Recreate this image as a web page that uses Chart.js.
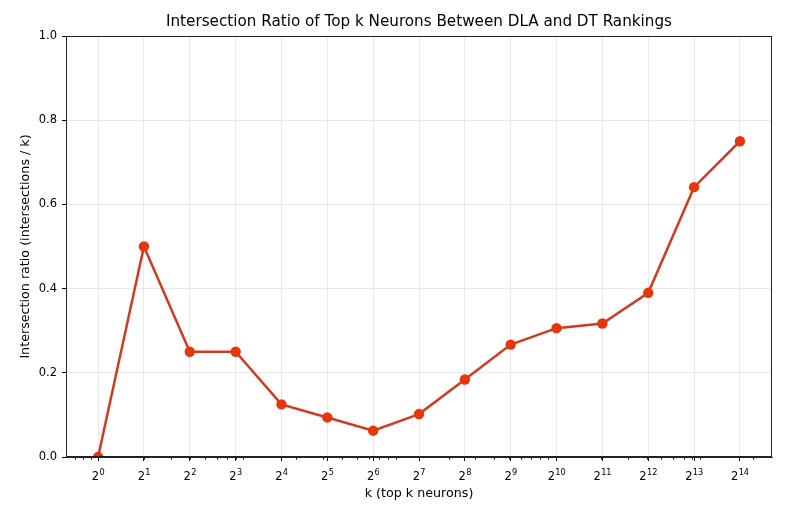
<!DOCTYPE html>
<html>
<head>
<meta charset="utf-8">
<script src="https://cdn.jsdelivr.net/npm/chart.js@4.4.0/dist/chart.umd.min.js"></script>
<style>
  html, body { margin: 0; padding: 0; background: #fff; }
  #wrap { width: 796px; height: 511px; }
</style>
</head>
<body>
<div id="wrap"><canvas id="ratioChart" width="796" height="511"></canvas></div>
<script>
// top k values and intersection ratios
const kValues = [1, 2, 4, 8, 16, 32, 64, 128, 256, 512, 1024, 2048, 4096, 8192, 16384];
const ratios = [0.0, 0.5, 0.25, 0.25, 0.125, 0.094, 0.0625, 0.102, 0.184, 0.267, 0.306, 0.317, 0.39, 0.641, 0.75];
const xExponents = [0, 1, 2, 3, 4, 5, 6, 7, 8, 9, 10, 11, 12, 13, 14];
const yTicks = [0.0, 0.2, 0.4, 0.6, 0.8, 1.0];
const chartTitle = 'Intersection Ratio of Top k Neurons Between DLA and DT Rankings';

const FONT = 'DejaVu Sans';

// minor ticks like matplotlib's base-10 log minor locator
const minorTicks = [];
for (let m = -1; m <= 4; m++) {
    for (let d = 2; d <= 9; d++) {
        const v = Math.log2(d * Math.pow(10, m));
        if (v > -0.7 && v < 14.7) minorTicks.push(v);
    }
}

// frame, minor ticks, title over the plot and 2^n tick labels with superscripts
const frame = {
    id: 'frame',
    afterDraw(chart) {
        const { ctx, chartArea: a } = chart;
        const xs = chart.scales.x;
        ctx.save();
        ctx.strokeStyle = '#000';
        ctx.lineWidth = 1;
        ctx.beginPath();
        minorTicks.forEach(v => {
            const px = Math.round(xs.getPixelForValue(v)) + 0.5;
            ctx.moveTo(px, a.bottom);
            ctx.lineTo(px, a.bottom + 2.5);
        });
        ctx.stroke();
        ctx.strokeStyle = '#222';
        ctx.strokeRect(a.left + 0.5, a.top + 0.5, a.right - a.left - 1, a.bottom - a.top - 1);

        ctx.fillStyle = '#000';
        ctx.font = '15.2px "' + FONT + '"';
        ctx.textAlign = 'center';
        ctx.textBaseline = 'middle';
        ctx.fillText(chartTitle, (a.left + a.right) / 2, 22);

        ctx.textBaseline = 'alphabetic';
        ctx.textAlign = 'left';
        const baseY = a.bottom + 23;
        xs.ticks.forEach((t, i) => {
            const px = xs.getPixelForTick(i);
            const exp = String(t.value);
            ctx.font = '11.5px "' + FONT + '"';
            const w1 = ctx.measureText('2').width;
            ctx.font = '8.2px "' + FONT + '"';
            const w2 = ctx.measureText(exp).width;
            const x0 = px - (w1 + w2) / 2;
            ctx.font = '11.5px "' + FONT + '"';
            ctx.fillText('2', x0, baseY);
            ctx.font = '8.2px "' + FONT + '"';
            ctx.fillText(exp, x0 + w1 + 0.3, baseY - 5);
        });
        ctx.restore();
    }
};

Chart.defaults.font.family = FONT;
Chart.defaults.color = '#000';

const ctx = document.getElementById('ratioChart').getContext('2d');
new Chart(ctx, {
    type: 'line',
    data: {
        datasets: [{
            data: kValues.map((k, i) => ({ x: Math.log2(k), y: ratios[i] })),
            borderColor: '#d13a1f',
            borderWidth: 2.5,
            pointBackgroundColor: '#e5360c',
            pointBorderColor: '#e5360c',
            pointRadius: 5.2,
            pointBorderWidth: 0,
            tension: 0
        }]
    },
    options: {
        responsive: false,
        animation: false,
        layout: { padding: { left: 0, right: 24, top: 36, bottom: 0 } },
        plugins: {
            legend: { display: false },
            tooltip: { enabled: false },
            title: { display: false }
        },
        scales: {
            x: {
                type: 'linear',
                min: -0.7,
                max: 14.7,
                afterBuildTicks(scale) {
                    scale.ticks = xExponents.map(v => ({ value: v }));
                },
                afterFit(scale) { scale.height = 54; },
                ticks: { display: false },
                grid: {
                    color: '#e3e3e3',
                    lineWidth: 0.8,
                    tickColor: '#000',
                    tickLength: 4,
                    tickWidth: 1
                },
                border: { display: true, color: '#222', width: 1 },
                title: {
                    display: true,
                    text: 'k (top k neurons)',
                    font: { size: 12.7 },
                    padding: { top: 0, bottom: 10 }
                }
            },
            y: {
                min: 0,
                max: 1,
                afterBuildTicks(scale) {
                    scale.ticks = yTicks.map(v => ({ value: v }));
                },
                afterFit(scale) { scale.width = 66; },
                ticks: {
                    font: { size: 11.5 },
                    padding: 5,
                    callback: v => v.toFixed(1)
                },
                grid: {
                    color: '#e3e3e3',
                    lineWidth: 0.8,
                    tickColor: '#000',
                    tickLength: 4,
                    tickWidth: 1
                },
                border: { display: true, color: '#222', width: 1 },
                title: {
                    display: true,
                    text: 'Intersection ratio (intersections / k)',
                    font: { size: 12.7 },
                    padding: { top: 18, bottom: 0 }
                }
            }
        }
    },
    plugins: [frame]
});
</script>
</body>
</html>
